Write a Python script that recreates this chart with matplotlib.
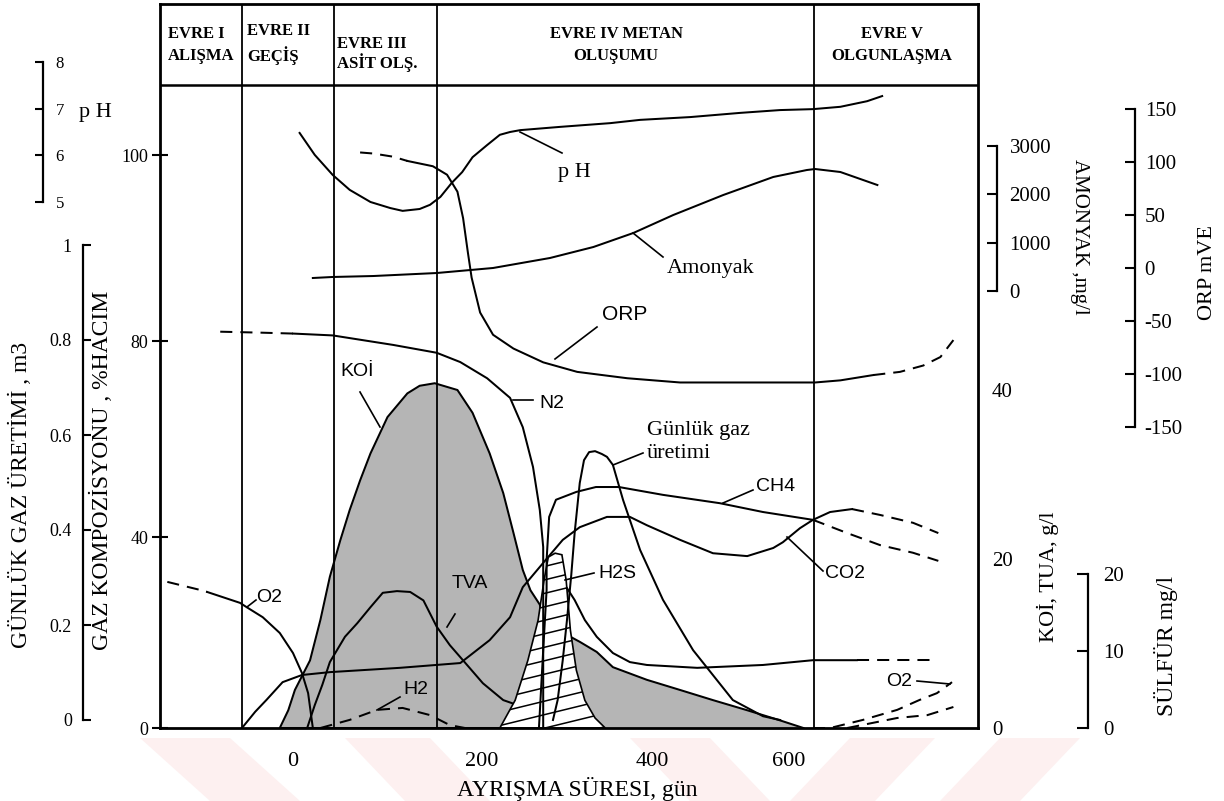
import numpy as np
import matplotlib
matplotlib.use("Agg")
import matplotlib.pyplot as plt
from matplotlib.patches import Polygon
from matplotlib.lines import Line2D

# ---------------- data ----------------
phase_labels = ["EVRE I\nALIŞMA", "EVRE II\nGEÇİŞ", "EVRE III\nASİT OLŞ.",
                "EVRE IV METAN\nOLUŞUMU", "EVRE V\nOLGUNLAŞMA"]
phase_bounds = [-54, 43, 152, 636]          # gün

x_ticks = [0, 200, 400, 600]
gas_pct_ticks = [0, 40, 80, 100]
gas_m3_ticks = [0, 0.2, 0.4, 0.6, 0.8, 1]
ph_ticks = [5, 6, 7, 8]
nh3_ticks = [0, 1000, 2000, 3000]
orp_ticks = [-150, -100, -50, 0, 50, 100, 150]
koi_ticks = [0, 20, 40]
s_ticks = [0, 10, 20]

# pH
ph_day = [7, 23, 42, 60, 82, 103, 116, 134, 145, 156, 168, 179, 190, 206, 221, 233, 245,
          292, 351, 386, 456, 529, 587, 635, 675, 714, 736]
ph_val = [6.48, 6.01, 5.58, 5.26, 5.00, 4.87, 4.81, 4.85, 4.94, 5.11, 5.41, 5.64, 5.96, 6.22,
          6.44, 6.50, 6.54, 6.61, 6.69, 6.76, 6.82, 6.91, 6.97, 6.99, 7.04, 7.16, 7.27]
# Amonyak mg/l
nh3_day = [21, 42, 85, 152, 213, 280, 331, 378, 431, 504, 577, 626, 638, 675, 729]
nh3_val = [269, 290, 310, 372, 476, 683, 910, 1200, 1572, 1986, 2359, 2503, 2524, 2462, 2193]
# ORP mV
orp_dash_day = [71, 85, 106, 121]
orp_dash_val = [109, 108, 105, 101]
orp_day = [121, 148, 163, 174, 180, 185, 189, 198, 213, 237, 272, 312, 371, 441, 529, 638, 675, 723]
orp_val = [101, 96, 88, 72, 47, 15, -9, -42, -63, -76, -89, -98, -104, -108, -108, -108, -106, -101]
orp_end_day = [723, 762, 796, 821, 840]
orp_end_val = [-101, -98, -92, -84, -68]
# N2 %
n2_dash_day = [-77, -35, 0]
n2_dash_val = [81.0, 80.9, 80.8]
n2_day = [0, 42, 106, 152, 177, 206, 233, 248, 260, 268, 272, 272, 272, 272]
n2_val = [80.8, 80.6, 79.2, 77.6, 75.7, 72.4, 68.4, 62.4, 54.3, 45.5, 37.9, 26.8, 14.2, 0]
# O2 %
o2_dash_day = [-133, -98, -91]
o2_dash_val = [30.6, 28.9, 28.5]
o2_day = [-91, -56, -49, -32, -14, 0, 9.5, 16, 21]
o2_val = [28.5, 26.2, 25.3, 23.2, 19.9, 15.7, 11.5, 7.3, 0]
# CO2 %
co2_day = [-54, -40, -28, -11, 9.5, 39, 113, 177, 209, 233, 248, 274, 295, 315, 347, 374, 394,
           441, 489, 539, 577, 591, 616, 635, 660, 692]
co2_val = [0, 3.4, 5.9, 9.6, 11.1, 11.7, 12.6, 13.6, 18.4, 23.2, 29.5, 35.0, 39.4, 42.0, 44.1,
           44.1, 42.4, 39.4, 36.6, 36.0, 37.7, 38.9, 41.8, 43.5, 45.1, 45.7]
co2_end_day = [692, 733, 781, 818]
co2_end_val = [45.7, 44.5, 42.9, 40.8]
# CH4 %
ch4_day = [267, 272, 276, 276, 279, 287, 311, 334, 361, 416, 499, 562, 635]
ch4_val = [0, 16.3, 28.9, 35.2, 44.1, 47.6, 49.2, 50.2, 50.2, 48.6, 46.9, 45.1, 43.5]
ch4_end_day = [635, 685, 733, 781, 818]
ch4_end_val = [43.5, 40.8, 38.3, 36.7, 35.0]
# H2 %
h2_day = [29, 60, 89, 116, 145, 166, 182]
h2_val = [0, 1.7, 3.8, 4.2, 2.7, 0.6, 0]
# flat curve after the gas peak %
flat_day = [300, 309, 321, 335, 354, 374, 394, 466, 562, 635, 699]
flat_val = [29.3, 26.8, 22.6, 19.1, 15.7, 13.8, 13.2, 12.6, 13.2, 14.2, 14.2]
flat_end_day = [699, 810]
flat_end_val = [14.2, 14.2]
# Evre V rising dashed gases %
o2b_day = [635, 660, 708, 758, 791, 816, 838]
o2b_val = [0, 0, 1.7, 3.8, 5.9, 7.3, 9.6]
n2b_day = [685, 758, 802, 840]
n2b_val = [0, 2.1, 2.7, 4.4]
# Günlük gaz üretimi m3
gas_day = [283.5, 289, 295, 300, 305, 309, 315, 320, 326, 333, 341, 347, 354, 366, 386, 416,
           460, 518, 562, 587]
gas_val = [0, 0.042, 0.126, 0.211, 0.305, 0.394, 0.499, 0.547, 0.564, 0.566, 0.560, 0.554,
           0.537, 0.463, 0.358, 0.253, 0.147, 0.042, 0.008, 0]
# KOİ g/l (shaded bell)
koi_day = [-14, -5, 2, 18, 29, 39, 50, 60, 71, 82, 100, 121, 134, 150, 174, 190, 209, 225, 237,
           248, 257, 268, 274, 272, 262, 253]
koi_val = [0, 2.1, 4.5, 8.0, 12.8, 17.9, 22.2, 25.8, 29.3, 32.5, 36.8, 39.6, 40.5, 40.8, 40.0,
           37.3, 32.5, 27.8, 23.1, 18.7, 16.3, 14.6, 12.0, 8.0, 4.1, 0]
# KOİ tail lobe g/l
koi2_day = [304, 315, 335, 354, 394, 441, 489, 539, 587, 621, 345, 333, 321, 311]
koi2_val = [10.8, 10.2, 9.0, 7.2, 5.7, 4.5, 3.3, 2.1, 0.9, 0, 0, 1.2, 3.3, 6.9]
# TVA g/l
tva_day = [15, 23, 31, 39, 55, 68, 82, 95, 110, 124, 138, 152, 166, 180, 201, 225, 245, 268, 292]
tva_val = [0, 2.7, 5.1, 7.8, 10.8, 12.4, 14.3, 16.0, 16.2, 16.1, 15.1, 12.0, 9.8, 8.0, 5.3, 3.3,
           2.6, 1.5, 0]
# Sülfür mg/l (hatched)
s_day = [221, 239, 254, 266, 273, 278, 286, 294, 299, 304, 311, 321, 333, 345]
s_val = [0, 3.6, 8.8, 14.0, 19.2, 22.2, 22.7, 22.5, 19.2, 12.7, 7.5, 3.6, 1.3, 0]

# ---------------- layout ----------------
W, H = 1224, 801
L, R, T, B = 160, 978, 4, 728
SERIF = "Liberation Serif"
SANS = "Liberation Sans"
LW = 1.45
DASH = (0, (6, 4))


def pw_funcs(vals, pos):
    vals = np.asarray(vals, float)
    pos = np.asarray(pos, float)

    def lin(v, a, b):
        v = np.asarray(v, float)
        out = np.interp(v, a, b)
        s0 = (b[1] - b[0]) / (a[1] - a[0])
        s1 = (b[-1] - b[-2]) / (a[-1] - a[-2])
        out = np.where(v < a[0], b[0] + (v - a[0]) * s0, out)
        out = np.where(v > a[-1], b[-1] + (v - a[-1]) * s1, out)
        return out
    return (lambda v: lin(v, vals, pos)), (lambda p: lin(p, pos, vals))


fig = plt.figure(figsize=(W / 100, H / 100), dpi=100)
fig.patch.set_facecolor("white")

# faint pink watermark bands at the bottom
for pts in [[(140, 738), (230, 738), (300, 801), (210, 801)],
            [(345, 738), (430, 738), (490, 801), (405, 801)],
            [(630, 738), (710, 738), (770, 801), (690, 801)],
            [(850, 738), (935, 738), (875, 801), (790, 801)],
            [(1000, 738), (1080, 738), (1020, 801), (940, 801)]]:
    fig.patches.append(Polygon([(x / W, 1 - y / H) for x, y in pts], closed=True,
                               transform=fig.transFigure, facecolor="#fdf0f0",
                               edgecolor="none", zorder=-5))

ax = fig.add_axes([L / W, 1 - B / H, (R - L) / W, (B - T) / H])
fx, ix = pw_funcs(x_ticks, [293, 482, 652, 789])
ax.set_xscale("function", functions=(fx, ix))
fy, iy = pw_funcs(gas_pct_ticks, [-728, -537, -341, -155])
ax.set_yscale("function", functions=(fy, iy))
ax.set_xlim(float(ix(L)), float(ix(R)))
ax.set_ylim(float(iy(-B)), float(iy(-T)))

twins = []


def twin(cal):
    t = ax.twinx()
    (v1, p1), (v2, p2) = cal
    s = (v2 - v1) / (p2 - p1)
    t.set_ylim(v1 + (B - p1) * s, v1 + (T - p1) * s)
    for sp in t.spines.values():
        sp.set_visible(False)
    twins.append(t)
    return t


def frac(px):
    return (px - L) / (R - L)


# KOİ / TVA axis (right frame)
tk = twin(((0, 728), (40, 390)))
tk.set_yticks(koi_ticks, labels=[str(v) for v in koi_ticks])
tk.tick_params(axis="y", length=0, pad=10, labelsize=15)
for lab in tk.get_yticklabels():
    lab.set_fontfamily(SERIF)
tk.fill(koi_day, koi_val, facecolor="#b5b5b5", edgecolor="k", lw=LW)
tk.fill(koi2_day, koi2_val, facecolor="#b5b5b5", edgecolor="none")
tk.plot(koi2_day[:10], koi2_val[:10], color="k", lw=LW)
tk.plot(tva_day, tva_val, color="k", lw=LW)

# Sülfür axis
ts = twin(((0, 728), (20, 574)))
ts.spines["right"].set_visible(True)
ts.spines["right"].set_position(("axes", frac(1088)))
ts.spines["right"].set_bounds(0, 20)
ts.spines["right"].set_linewidth(1.6)
ts.set_yticks(s_ticks, labels=[str(v) for v in s_ticks])
ts.tick_params(axis="y", direction="in", length=8, width=1.5, pad=11, labelsize=15)
for lab in ts.get_yticklabels():
    lab.set_fontfamily(SERIF)
spoly = Polygon(np.column_stack([s_day, s_val]), closed=True, facecolor="white",
                edgecolor="k", lw=1.2)
ts.add_patch(spoly)
for c in np.arange(-5.5, 24, 1.75):
    ln, = ts.plot([200, 360], [c, c + 0.027 * 160], color="k", lw=1.1)
    ln.set_clip_path(spoly)

# Günlük gaz üretimi axis (left, m3)
tg = twin(((0, 720), (1, 245)))
tg.yaxis.tick_left()
tg.spines["left"].set_visible(True)
tg.spines["left"].set_position(("axes", frac(83)))
tg.spines["left"].set_bounds(0, 1)
tg.spines["left"].set_linewidth(1.6)
tg.set_yticks(gas_m3_ticks, labels=["0", "0.2", "0.4", "0.6", "0.8", "1"])
tg.tick_params(axis="y", direction="in", length=6, width=1.5, pad=8, labelsize=13)
for lab in tg.get_yticklabels():
    lab.set_fontfamily(SERIF)
tg.plot(gas_day, gas_val, color="k", lw=LW)

# pH axis
tp = twin(((8, 62), (5, 202)))
tp.spines["right"].set_visible(True)
tp.spines["right"].set_position(("axes", frac(43)))
tp.spines["right"].set_bounds(5, 8)
tp.spines["right"].set_linewidth(1.6)
tp.set_yticks(ph_ticks, labels=[str(v) for v in ph_ticks])
tp.tick_params(axis="y", direction="in", length=6, width=1.5, pad=9, labelsize=12)
for lab in tp.get_yticklabels():
    lab.set_fontfamily(SERIF)
tp.plot(ph_day, ph_val, color="k", lw=LW)

# Amonyak axis
tn = twin(((3000, 146), (0, 291)))
tn.spines["right"].set_visible(True)
tn.spines["right"].set_position(("axes", frac(997)))
tn.spines["right"].set_bounds(0, 3000)
tn.spines["right"].set_linewidth(1.6)
tn.set_yticks(nh3_ticks, labels=[str(v) for v in nh3_ticks])
tn.tick_params(axis="y", direction="in", length=7, width=1.5, pad=9, labelsize=15)
for lab in tn.get_yticklabels():
    lab.set_fontfamily(SERIF)
tn.plot(nh3_day, nh3_val, color="k", lw=LW)

# ORP axis
to = twin(((100, 162), (-150, 427)))
to.spines["right"].set_visible(True)
to.spines["right"].set_position(("axes", frac(1135)))
to.spines["right"].set_bounds(-150, 150)
to.spines["right"].set_linewidth(1.6)
to.set_yticks(orp_ticks, labels=[str(v) for v in orp_ticks])
to.tick_params(axis="y", direction="in", length=7, width=1.5, pad=7, labelsize=15)
for lab in to.get_yticklabels():
    lab.set_fontfamily(SERIF)
to.plot(orp_dash_day, orp_dash_val, color="k", lw=LW, ls=DASH)
to.plot(orp_day, orp_val, color="k", lw=LW)
to.plot(orp_end_day, orp_end_val, color="k", lw=LW, ls=DASH)

# draw the gas-composition axes on top of the twin axes
for i, t in enumerate(twins):
    t.set_zorder(1 + 0.1 * i)
    t.patch.set_visible(False)
ax.set_zorder(5)
ax.patch.set_visible(False)

# ---- main axes (gas composition %) ----
for d in phase_bounds:
    ax.axvline(d, color="k", lw=1.3)
ax.plot([0, 1], [(B - 85) / (B - T)] * 2, transform=ax.transAxes, color="k", lw=1.8)

ax.plot(n2_dash_day, n2_dash_val, color="k", lw=LW, ls=DASH)
ax.plot(n2_day, n2_val, color="k", lw=LW)
ax.plot(o2_dash_day, o2_dash_val, color="k", lw=LW, ls=DASH)
ax.plot(o2_day, o2_val, color="k", lw=LW)
ax.plot(co2_day, co2_val, color="k", lw=LW)
ax.plot(co2_end_day, co2_end_val, color="k", lw=LW, ls=DASH)
ax.plot(ch4_day, ch4_val, color="k", lw=LW)
ax.plot(ch4_end_day, ch4_end_val, color="k", lw=LW, ls=DASH)
ax.plot(h2_day, h2_val, color="k", lw=LW, ls=DASH)
ax.plot(flat_day, flat_val, color="k", lw=LW)
ax.plot(flat_end_day, flat_end_val, color="k", lw=LW, ls=DASH)
ax.plot(o2b_day, o2b_val, color="k", lw=LW, ls=DASH)
ax.plot(n2b_day, n2b_val, color="k", lw=LW, ls=DASH)

for sp in ax.spines.values():
    sp.set_linewidth(2.0)
ax.set_yticks(gas_pct_ticks, labels=[str(v) for v in gas_pct_ticks])
ax.tick_params(axis="y", direction="inout", length=11, width=1.5, pad=3, labelsize=13)
ax.set_xticks(x_ticks, labels=[str(v) for v in x_ticks])
ax.tick_params(axis="x", length=0, pad=17, labelsize=16)
ax.minorticks_off()
for lab in ax.get_xticklabels() + ax.get_yticklabels():
    lab.set_fontfamily(SERIF)


# ---------------- text ----------------
def ftext(px, py, s, **kw):
    return fig.text(px / W, 1 - py / H, s, **kw)


def leader(p1, p2, lw=1.2):
    fig.add_artist(Line2D([p1[0] / W, p2[0] / W], [1 - p1[1] / H, 1 - p2[1] / H],
                          transform=fig.transFigure, color="k", lw=lw, zorder=10))


hdr = dict(family=SERIF, fontsize=12, fontweight="bold", va="center")
ftext(168, 45, phase_labels[0], ha="left", linespacing=1.45, **hdr)
ftext(247, 44, phase_labels[1], ha="left", linespacing=1.45, **hdr)
ftext(337, 54, phase_labels[2], ha="left", linespacing=1.05, **hdr)
ftext(616, 45, phase_labels[3], ha="center", multialignment="center", linespacing=1.45, **hdr)
ftext(892, 45, phase_labels[4], ha="center", multialignment="center", linespacing=1.45, **hdr)

sans = dict(family=SANS, fontsize=14, va="center", ha="left")
ser = dict(family=SERIF, fontsize=16, va="center", ha="left")
ftext(340, 372, "KOİ", **sans)
ftext(539, 404, "N2", **sans)
ftext(452, 584, "TVA", **sans)
ftext(598, 574, "H2S", **sans)
ftext(756, 486, "CH4", **sans)
ftext(256, 598, "O2", **sans)
ftext(403, 689, "H2", **sans)
ftext(825, 574, "CO2", **sans)
ftext(886, 681, "O2", **sans)
ftext(602, 314, "ORP", family=SANS, fontsize=15, va="center", ha="left")
ftext(558, 173, "p H", **ser)
ftext(667, 268, "Amonyak", **ser)
ftext(647, 442, "Günlük gaz\nüretimi", linespacing=1.3, **ser)

leader((520, 132), (562, 153))
leader((633, 233), (663, 257))
leader((555, 359), (597, 327))
leader((360, 392), (380, 427))
leader((513, 400), (533, 400))
leader((613, 465), (643, 453))
leader((723, 503), (753, 490))
leader((447, 627), (455, 614))
leader((565, 580), (594, 573))
leader((247, 607), (256, 600))
leader((377, 710), (400, 697))
leader((787, 537), (823, 571))
leader((917, 681), (950, 684))

ftext(20, 495, "GÜNLÜK GAZ ÜRETİMİ , m3", family=SERIF, fontsize=17, rotation=90,
      ha="center", va="center")
ftext(101, 470, "GAZ KOMPOZİSYONU , %HACIM", family=SERIF, fontsize=17, rotation=90,
      ha="center", va="center")
ftext(95, 112, "p H", family=SERIF, fontsize=16, ha="center", va="center")
ftext(1079, 237, "AMONYAK ,mg/l", family=SERIF, fontsize=15, rotation=270,
      ha="center", va="center")
ftext(1208, 273, "ORP mVE", family=SERIF, fontsize=16, rotation=90, ha="center", va="center")
ftext(1048, 577, "KOİ, TUA, g/l", family=SERIF, fontsize=16, rotation=90,
      ha="center", va="center")
ftext(1166, 646, "SÜLFÜR mg/l", family=SERIF, fontsize=17, rotation=90,
      ha="center", va="center")
ftext(577, 789, "AYRIŞMA SÜRESI, gün", family=SERIF, fontsize=17, ha="center", va="center")

fig.savefig("out.png", dpi=100)
